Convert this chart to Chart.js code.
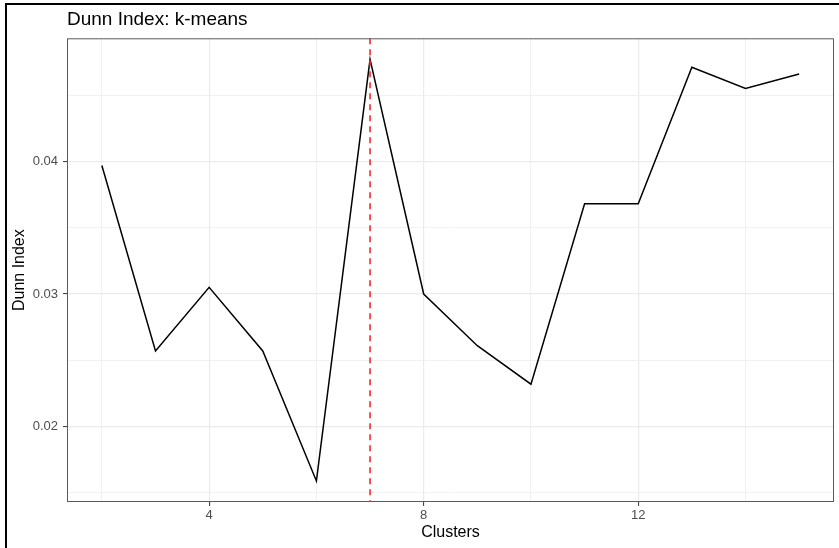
<!DOCTYPE html>
<html>
<head>
<meta charset="utf-8">
<script src="https://cdn.jsdelivr.net/npm/chart.js@4.4.1/dist/chart.umd.min.js"></script>
<style>
    html, body { margin: 0; padding: 0; background: #fff; }
    #wrap { position: relative; width: 839px; height: 548px; overflow: hidden; }
    #frame {
        position: absolute; left: 5px; top: 3px; width: 900px; height: 600px;
        border-top: 2px solid #000; border-left: 2px solid #000;
        pointer-events: none;
    }
    canvas { position: absolute; left: 0; top: 0; }
</style>
</head>
<body>
<div id="wrap">
    <canvas id="chart" width="839" height="548"></canvas>
    <div id="frame"></div>
</div>
<script>
// Dunn index per number of clusters (k-means)
const clusters = [2, 3, 4, 5, 6, 7, 8, 9, 10, 11, 12, 13, 14, 15];
const dunn = [0.0397, 0.0257, 0.0305, 0.0257, 0.0159, 0.0477, 0.0300,
              0.0261, 0.0232, 0.0368, 0.0368, 0.0471, 0.0455, 0.0466];
const bestK = 7;

// ticks and grid lines (ggplot style: major + minor)
const xMajor = [4, 8, 12];
const xGrid = [2, 4, 6, 8, 10, 12, 14];
const yMajor = [0.02, 0.03, 0.04];
const yGrid = [0.015, 0.02, 0.025, 0.03, 0.035, 0.04, 0.045];

// ggplot default 5% expansion
function expand(values) {
    const lo = Math.min(...values), hi = Math.max(...values);
    const pad = (hi - lo) * 0.05;
    return [lo - pad, hi + pad];
}
const [xMin, xMax] = expand(clusters);
const [yMin, yMax] = expand(dunn);

const isMajor = (list, v) => list.some(m => Math.abs(m - v) < 1e-9);

const font = "'Liberation Sans', Arial, Helvetica, sans-serif";

// panel border + vertical reference line
const panelPlugin = {
    id: 'panel',
    afterDatasetsDraw(chart) {
        const { ctx, chartArea: a, scales } = chart;
        const px = scales.x.getPixelForValue(bestK);
        ctx.save();
        ctx.strokeStyle = '#f52a2a';
        ctx.lineWidth = 1.6;
        ctx.setLineDash([6, 5]);
        ctx.beginPath();
        ctx.moveTo(px, a.top);
        ctx.lineTo(px, a.bottom);
        ctx.stroke();
        ctx.setLineDash([]);
        ctx.strokeStyle = '#5a5a5a';
        ctx.lineWidth = 1;
        ctx.strokeRect(a.left + 0.5, a.top + 0.5, a.right - a.left - 1, a.bottom - a.top - 1);
        ctx.restore();
    }
};

new Chart(document.getElementById('chart'), {
    type: 'line',
    data: {
        datasets: [{
            data: clusters.map((c, i) => ({ x: c, y: dunn[i] })),
            borderColor: '#000',
            borderWidth: 1.5,
            pointRadius: 0,
            tension: 0,
            fill: false
        }]
    },
    options: {
        responsive: false,
        animation: false,
        devicePixelRatio: 1,
        layout: { padding: { left: 0, right: 5, top: 0, bottom: 0 } },
        plugins: {
            legend: { display: false },
            tooltip: { enabled: false },
            title: {
                display: true,
                text: 'Dunn Index: k-means',
                align: 'start',
                fullSize: false,
                color: '#000',
                font: { family: font, size: 19, weight: 'normal' },
                padding: { top: 8.5, bottom: 7 }
            }
        },
        scales: {
            x: {
                type: 'linear',
                min: xMin,
                max: xMax,
                afterBuildTicks: s => { s.ticks = xGrid.map(v => ({ value: v })); },
                afterFit: s => { s.height = 46; },
                border: { display: false },
                grid: {
                    color: '#ebebeb',
                    lineWidth: c => isMajor(xMajor, c.tick.value) ? 1.2 : 0.7,
                    tickColor: c => isMajor(xMajor, c.tick.value) ? '#333' : 'rgba(0,0,0,0)',
                    tickWidth: 1,
                    tickLength: 4
                },
                ticks: {
                    color: '#4d4d4d',
                    font: { family: font, size: 13 },
                    padding: 2,
                    maxRotation: 0,
                    autoSkip: false,
                    callback: v => isMajor(xMajor, v) ? String(v) : ''
                },
                title: {
                    display: true,
                    text: 'Clusters',
                    color: '#000',
                    font: { family: font, size: 16 },
                    padding: { top: 0, bottom: 6 }
                }
            },
            y: {
                type: 'linear',
                min: yMin,
                max: yMax,
                afterBuildTicks: s => { s.ticks = yGrid.map(v => ({ value: v })); },
                afterFit: s => { s.width = 67; },
                border: { display: false },
                grid: {
                    color: '#ebebeb',
                    lineWidth: c => isMajor(yMajor, c.tick.value) ? 1.2 : 0.7,
                    tickColor: c => isMajor(yMajor, c.tick.value) ? '#333' : 'rgba(0,0,0,0)',
                    tickWidth: 1,
                    tickLength: 4
                },
                ticks: {
                    color: '#4d4d4d',
                    font: { family: font, size: 13 },
                    padding: 5,
                    autoSkip: false,
                    callback: v => isMajor(yMajor, v) ? v.toFixed(2) : ''
                },
                title: {
                    display: true,
                    text: 'Dunn Index',
                    color: '#000',
                    font: { family: font, size: 16 },
                    padding: { top: 10, bottom: 0 }
                }
            }
        }
    },
    plugins: [panelPlugin]
});
</script>
</body>
</html>
